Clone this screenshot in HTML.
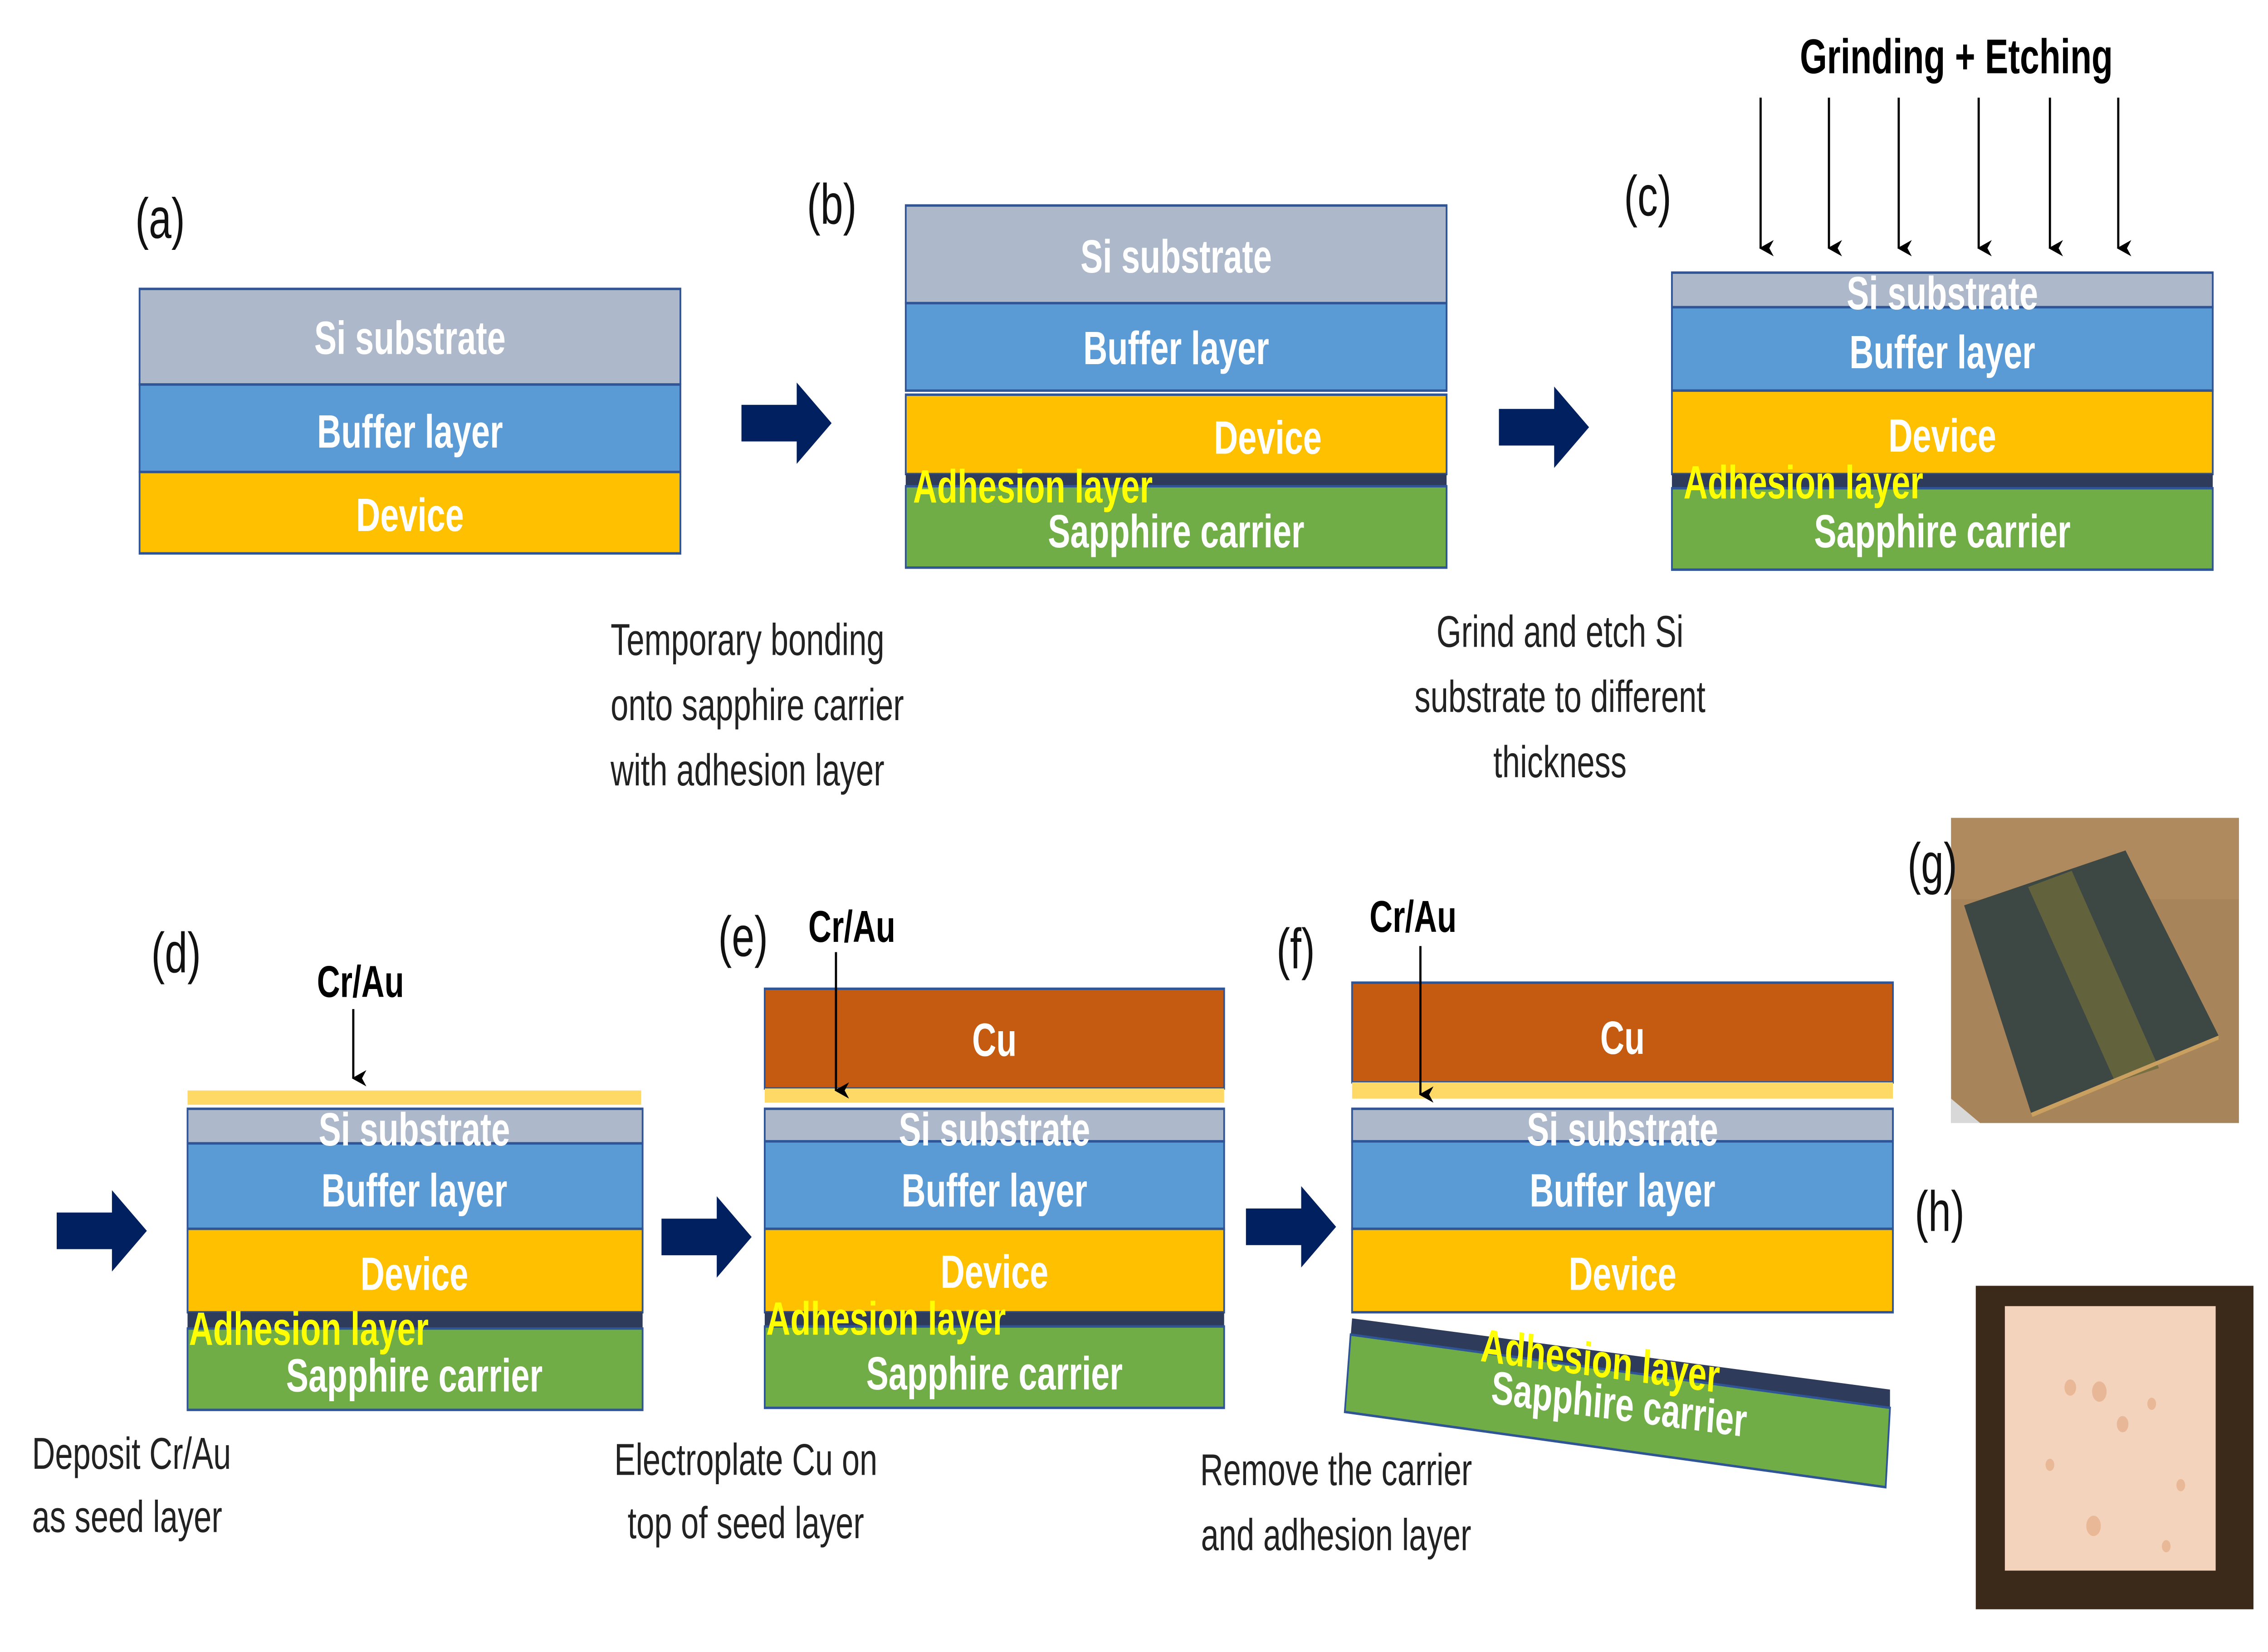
<!DOCTYPE html>
<html><head><meta charset="utf-8"><style>
html,body{margin:0;padding:0;background:#fff;width:100%;height:100%;overflow:hidden;}
svg{display:block;position:fixed;left:0;top:0;width:100vw;height:100vh;}
text{font-family:"Liberation Sans",Arial,sans-serif;}
.w{fill:#fff;font-weight:bold;font-size:23px;text-anchor:middle;}
.y{fill:#ffff00;font-weight:bold;font-size:23px;}
.c{fill:#222;font-size:22px;}
.l{fill:#111;font-size:28px;}
.b{fill:#000;font-weight:bold;font-size:22px;}
.L{stroke:#2f5597;stroke-width:1.2;}
</style></head><body>
<svg viewBox="0 0 1560 812" preserveAspectRatio="none" xmlns="http://www.w3.org/2000/svg">
<defs>
<marker id="ah" markerWidth="8" markerHeight="10" refX="4" refY="9" orient="auto" markerUnits="userSpaceOnUse">
<path d="M0,0 L4,10 L8,0 L4,3 Z" fill="#000"/></marker>
</defs>
<rect width="1560" height="812" fill="#fff"/>

<!-- (a) -->
<text class="l" x="93" y="117">(a)</text>
<rect class="L" x="96" y="142" width="372" height="47" fill="#adb9ca"/>
<rect class="L" x="96" y="189" width="372" height="43" fill="#5b9bd5"/>
<rect class="L" x="96" y="232" width="372" height="40" fill="#ffc000"/>
<text class="w" x="282" y="174">Si substrate</text>
<text class="w" x="282" y="220">Buffer layer</text>
<text class="w" x="282" y="261">Device</text>

<path transform="translate(510,188)" d="M0,11 H38 V0 L62,20 L38,40 V29 H0 Z" fill="#002060"/>

<!-- (b) -->
<text class="l" x="555" y="110">(b)</text>
<rect class="L" x="623" y="101" width="372" height="48" fill="#adb9ca"/>
<rect class="L" x="623" y="149" width="372" height="43" fill="#5b9bd5"/>
<rect class="L" x="623" y="194" width="372" height="39" fill="#ffc000"/>
<rect x="623" y="233" width="372" height="6" fill="#2f3b5a"/>
<rect class="L" x="623" y="239" width="372" height="40" fill="#70ad47"/>
<text class="w" x="809" y="134">Si substrate</text>
<text class="w" x="809" y="179">Buffer layer</text>
<text class="w" x="872" y="223">Device</text>
<text class="y" x="628" y="247">Adhesion layer</text>
<text class="w" x="809" y="269">Sapphire carrier</text>
<text class="c" x="420" y="322">Temporary bonding</text>
<text class="c" x="420" y="354">onto sapphire carrier</text>
<text class="c" x="420" y="386">with adhesion layer</text>

<path transform="translate(1031,190)" d="M0,11 H38 V0 L62,20 L38,40 V29 H0 Z" fill="#002060"/>

<!-- (c) -->
<text class="l" x="1117" y="106">(c)</text>
<text class="b" x="1238" y="36" style="font-size:24px">Grinding  + Etching</text>
<g stroke="#000" stroke-width="1.5" marker-end="url(#ah)">
<line x1="1211" y1="48" x2="1211" y2="122"/><line x1="1258" y1="48" x2="1258" y2="122"/>
<line x1="1306" y1="48" x2="1306" y2="122"/><line x1="1361" y1="48" x2="1361" y2="122"/>
<line x1="1410" y1="48" x2="1410" y2="122"/><line x1="1457" y1="48" x2="1457" y2="122"/>
</g>
<rect class="L" x="1150" y="134" width="372" height="17" fill="#adb9ca"/>
<rect class="L" x="1150" y="151" width="372" height="41" fill="#5b9bd5"/>
<rect class="L" x="1150" y="192" width="372" height="41" fill="#ffc000"/>
<rect x="1150" y="233" width="372" height="7" fill="#2f3b5a"/>
<rect class="L" x="1150" y="240" width="372" height="40" fill="#70ad47"/>
<text class="w" x="1336" y="152">Si substrate</text>
<text class="w" x="1336" y="181">Buffer layer</text>
<text class="w" x="1336" y="222">Device</text>
<text class="y" x="1158" y="245">Adhesion layer</text>
<text class="w" x="1336" y="269">Sapphire carrier</text>
<text class="c" x="1073" y="318" text-anchor="middle">Grind and etch Si</text>
<text class="c" x="1073" y="350" text-anchor="middle">substrate to different</text>
<text class="c" x="1073" y="382" text-anchor="middle">thickness</text>

<!-- (d) -->
<path transform="translate(39,585)" d="M0,11 H38 V0 L62,20 L38,40 V29 H0 Z" fill="#002060"/>
<text class="l" x="104" y="478">(d)</text>
<text class="b" x="218" y="490">Cr/Au</text>
<line x1="243" y1="496" x2="243" y2="530" stroke="#000" stroke-width="1.5" marker-end="url(#ah)"/>
<rect x="129" y="536" width="312" height="7" fill="#ffd966"/>
<rect class="L" x="129" y="545" width="313" height="17" fill="#adb9ca"/>
<rect class="L" x="129" y="562" width="313" height="42" fill="#5b9bd5"/>
<rect class="L" x="129" y="604" width="313" height="41" fill="#ffc000"/>
<rect x="129" y="645" width="313" height="8" fill="#2f3b5a"/>
<rect class="L" x="129" y="653" width="313" height="40" fill="#70ad47"/>
<text class="w" x="285" y="563">Si substrate</text>
<text class="w" x="285" y="593">Buffer layer</text>
<text class="w" x="285" y="634">Device</text>
<text class="y" x="130" y="661">Adhesion layer</text>
<text class="w" x="285" y="684">Sapphire carrier</text>
<text class="c" x="22" y="722">Deposit Cr/Au</text>
<text class="c" x="22" y="753">as seed layer</text>

<path transform="translate(455,588)" d="M0,11 H38 V0 L62,20 L38,40 V29 H0 Z" fill="#002060"/>

<!-- (e) -->
<text class="l" x="494" y="470">(e)</text>
<rect class="L" x="526" y="486" width="316" height="49" fill="#c55a11"/>
<rect x="526" y="535" width="316" height="7" fill="#ffd966"/>
<rect class="L" x="526" y="545" width="316" height="16" fill="#adb9ca"/>
<rect class="L" x="526" y="561" width="316" height="43" fill="#5b9bd5"/>
<rect class="L" x="526" y="604" width="316" height="41" fill="#ffc000"/>
<rect x="526" y="645" width="316" height="7" fill="#2f3b5a"/>
<rect class="L" x="526" y="652" width="316" height="40" fill="#70ad47"/>
<text class="w" x="684" y="519">Cu</text>
<text class="w" x="684" y="563">Si substrate</text>
<text class="w" x="684" y="593">Buffer layer</text>
<text class="w" x="684" y="633">Device</text>
<text class="y" x="527" y="656">Adhesion layer</text>
<text class="w" x="684" y="683">Sapphire carrier</text>
<text class="b" x="556" y="463">Cr/Au</text>
<line x1="575" y1="468" x2="575" y2="536" stroke="#000" stroke-width="1.5" marker-end="url(#ah)"/>
<text class="c" x="513" y="725" text-anchor="middle">Electroplate Cu on</text>
<text class="c" x="513" y="756" text-anchor="middle">top of seed layer</text>

<path transform="translate(857,583)" d="M0,11 H38 V0 L62,20 L38,40 V29 H0 Z" fill="#002060"/>

<!-- (f) -->
<text class="l" x="878" y="476">(f)</text>
<rect class="L" x="930" y="483" width="372" height="49" fill="#c55a11"/>
<rect x="930" y="532" width="372" height="8" fill="#ffd966"/>
<rect class="L" x="930" y="545" width="372" height="16" fill="#adb9ca"/>
<rect class="L" x="930" y="561" width="372" height="43" fill="#5b9bd5"/>
<rect class="L" x="930" y="604" width="372" height="41" fill="#ffc000"/>
<polygon points="930,648 1300,683 1300,693 929,657" fill="#2f3b5a"/>
<polygon points="929,656 1300,692 1297,731 925,694" fill="#70ad47" stroke="#2f5597" stroke-width="1.2"/>
<text class="w" x="1116" y="518">Cu</text>
<text class="w" x="1116" y="563">Si substrate</text>
<text class="w" x="1116" y="593">Buffer layer</text>
<text class="w" x="1116" y="634">Device</text>
<text class="y" x="1018" y="669" transform="rotate(5.4 1018 669)">Adhesion layer</text>
<text class="w" x="1113" y="698" transform="rotate(5.4 1113 698)">Sapphire carrier</text>
<text class="b" x="942" y="458">Cr/Au</text>
<line x1="977" y1="465" x2="977" y2="538" stroke="#000" stroke-width="1.5" marker-end="url(#ah)"/>
<text class="c" x="919" y="730" text-anchor="middle">Remove the carrier</text>
<text class="c" x="919" y="762" text-anchor="middle">and adhesion layer</text>

<!-- (g) photo -->
<rect x="1342" y="402" width="198" height="150" fill="#a8845a"/>
<rect x="1342" y="402" width="198" height="40" fill="#b38d60" opacity="0.6"/>
<polygon points="1342,540 1362,552 1342,552" fill="#d8d8d8"/>
<polygon points="1351,445 1462,418 1526,509 1397,547" fill="#3d4744"/>
<polygon points="1395,436 1425,428 1485,525 1455,532" fill="#6c6a3c" opacity="0.8"/>
<polygon points="1397,547 1526,509 1526,511 1398,549" fill="#c9a060"/>
<text class="l" x="1312" y="434">(g)</text>

<!-- (h) photo -->
<text class="l" x="1317" y="605">(h)</text>
<rect x="1359" y="632" width="191" height="159" fill="#3b2a1a"/>
<rect x="1379" y="642" width="145" height="130" fill="#f4d3bd"/>
<g fill="#e3ac88" opacity="0.7">
<circle cx="1424" cy="682" r="4"/><circle cx="1444" cy="684" r="5"/><circle cx="1460" cy="700" r="4"/>
<circle cx="1440" cy="750" r="5"/><circle cx="1480" cy="690" r="3"/><circle cx="1500" cy="730" r="3"/>
<circle cx="1410" cy="720" r="3"/><circle cx="1490" cy="760" r="3"/>
</g>
</svg>
</body></html>
